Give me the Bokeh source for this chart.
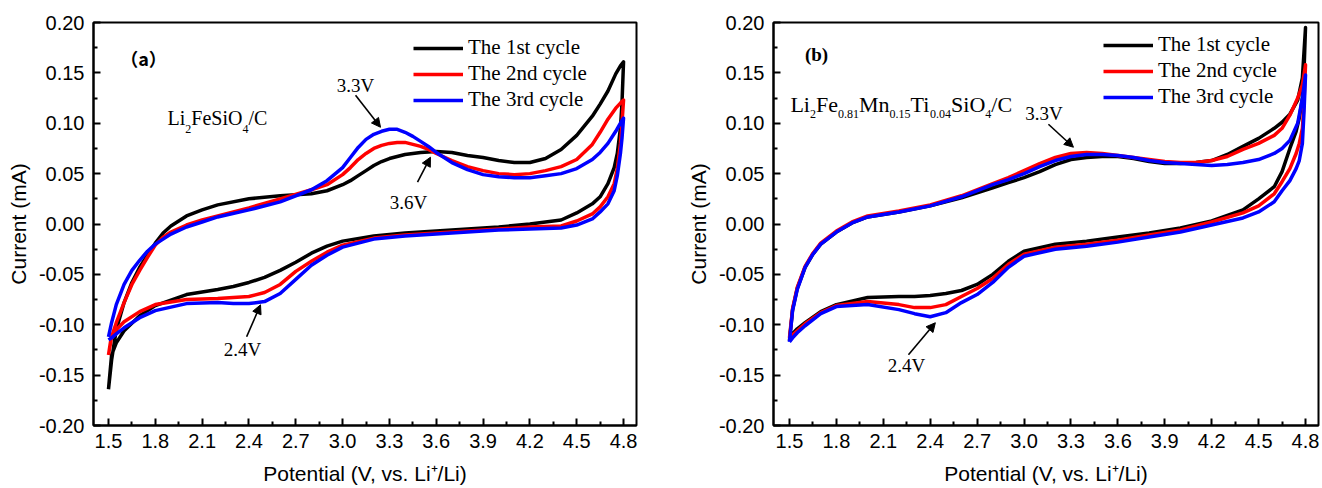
from bokeh.plotting import figure
from bokeh.layouts import row
from bokeh.models import (Range1d, FixedTicker, NumeralTickFormatter, Legend,
                          LegendItem, Label, Arrow, NormalHead)
from bokeh.embed import file_html
from bokeh.resources import INLINE

# ---------------- data ----------------
X_TICKS = [1.5, 1.8, 2.1, 2.4, 2.7, 3.0, 3.3, 3.6, 3.9, 4.2, 4.5, 4.8]
X_MINOR = [1.65, 1.95, 2.25, 2.55, 2.85, 3.15, 3.45, 3.75, 4.05, 4.35, 4.65]
Y_TICKS = [-0.20, -0.15, -0.10, -0.05, 0.00, 0.05, 0.10, 0.15, 0.20]
Y_MINOR = [-0.175, -0.125, -0.075, -0.025, 0.025, 0.075, 0.125, 0.175]
LEGEND_LABELS = ["The 1st cycle", "The 2nd cycle", "The 3rd cycle"]

# potential grids: anodic (forward) scan and cathodic (reverse) scan
A_V_ANODIC = [1.5, 1.52, 1.55, 1.6, 1.65, 1.7, 1.75, 1.8, 1.85, 1.9, 2.0, 2.1, 2.2, 2.4,
              2.6, 2.8, 2.9, 3.0, 3.05, 3.1, 3.15, 3.2, 3.25, 3.3, 3.35, 3.4, 3.45, 3.5,
              3.55, 3.6, 3.7, 3.8, 3.9, 4.0, 4.1, 4.2, 4.3, 4.4, 4.5, 4.6, 4.65, 4.7,
              4.75, 4.78, 4.8]
B_V_ANODIC = [1.5, 1.52, 1.55, 1.6, 1.65, 1.7, 1.8, 1.9, 2.0, 2.2, 2.4, 2.6, 2.8, 2.9,
              3.0, 3.1, 3.2, 3.3, 3.4, 3.5, 3.6, 3.7, 3.8, 3.9, 4.0, 4.1, 4.2, 4.3,
              4.4, 4.5, 4.6, 4.65, 4.7, 4.75, 4.78, 4.8]
V_CATHODIC = [4.8, 4.79, 4.78, 4.76, 4.74, 4.7, 4.65, 4.6, 4.5, 4.4, 4.2, 4.0, 3.8,
              3.6, 3.4, 3.2, 3.0, 2.9, 2.8, 2.7, 2.6, 2.5, 2.4, 2.3, 2.2, 2.0, 1.8,
              1.7, 1.6, 1.55, 1.52, 1.5]

# (a) Li2FeSiO4/C
A_ANODIC_1 = [-0.164, -0.135, -0.105, -0.078, -0.058, -0.043, -0.031, -0.019, -0.009, -0.002,
              0.008, 0.014, 0.019, 0.025, 0.028, 0.030, 0.033, 0.039, 0.043, 0.048, 0.053,
              0.058, 0.062, 0.065, 0.067, 0.069, 0.070, 0.071, 0.0715, 0.072, 0.071, 0.068,
              0.066, 0.063, 0.061, 0.061, 0.065, 0.074, 0.088, 0.107, 0.119, 0.132, 0.149,
              0.157, 0.161]
A_ANODIC_2 = [-0.130, -0.112, -0.098, -0.078, -0.060, -0.046, -0.033, -0.021, -0.013, -0.008,
              -0.001, 0.004, 0.008, 0.016, 0.025, 0.034, 0.039, 0.049, 0.056, 0.064, 0.070,
              0.075, 0.078, 0.080, 0.081, 0.081, 0.079, 0.077, 0.074, 0.070, 0.063, 0.057,
              0.053, 0.050, 0.049, 0.050, 0.053, 0.057, 0.064, 0.079, 0.091, 0.104, 0.115,
              0.120, 0.123]
A_ANODIC_3 = [-0.112, -0.098, -0.080, -0.060, -0.046, -0.036, -0.027, -0.020, -0.015, -0.010,
              -0.003, 0.002, 0.007, 0.014, 0.022, 0.034, 0.043, 0.056, 0.066, 0.076, 0.084,
              0.089, 0.092, 0.094, 0.094, 0.091, 0.087, 0.082, 0.077, 0.071, 0.061, 0.054,
              0.049, 0.047, 0.046, 0.046, 0.048, 0.050, 0.055, 0.064, 0.071, 0.080, 0.092,
              0.100, 0.105]
A_CATHODIC_1 = [0.161, 0.120, 0.095, 0.070, 0.056, 0.040, 0.027, 0.020, 0.011, 0.004, 0.000,
                -0.003, -0.005, -0.007, -0.009, -0.012, -0.017, -0.022, -0.029, -0.038, -0.046,
                -0.053, -0.058, -0.062, -0.065, -0.070, -0.081, -0.091, -0.106, -0.118, -0.130,
                -0.164]
A_CATHODIC_2 = [0.123, 0.100, 0.080, 0.055, 0.040, 0.027, 0.017, 0.010, 0.003, -0.002, -0.003,
                -0.005, -0.007, -0.009, -0.011, -0.014, -0.021, -0.028, -0.037, -0.047, -0.060,
                -0.068, -0.072, -0.073, -0.074, -0.075, -0.080, -0.087, -0.097, -0.105, -0.110,
                -0.130]
A_CATHODIC_3 = [0.105, 0.085, 0.070, 0.048, 0.033, 0.020, 0.012, 0.005, -0.001, -0.004, -0.005,
                -0.006, -0.008, -0.010, -0.012, -0.015, -0.023, -0.031, -0.041, -0.055, -0.069,
                -0.077, -0.079, -0.079, -0.078, -0.079, -0.086, -0.093, -0.103, -0.109, -0.113,
                -0.115]

# (b) Li2Fe0.81Mn0.15Ti0.04SiO4/C
B_ANODIC_1 = [-0.116, -0.085, -0.064, -0.043, -0.030, -0.020, -0.008, 0.001, 0.007, 0.012,
              0.018, 0.026, 0.036, 0.041, 0.046, 0.052, 0.059, 0.064, 0.066, 0.067, 0.067,
              0.065, 0.062, 0.060, 0.060, 0.061, 0.063, 0.069, 0.077, 0.085, 0.095, 0.101,
              0.109, 0.123, 0.145, 0.195]
B_ANODIC_2 = [-0.113, -0.084, -0.063, -0.042, -0.029, -0.019, -0.007, 0.002, 0.008, 0.013,
              0.019, 0.028, 0.040, 0.046, 0.053, 0.060, 0.066, 0.070, 0.071, 0.070, 0.068,
              0.066, 0.064, 0.062, 0.061, 0.061, 0.063, 0.067, 0.074, 0.080, 0.088, 0.095,
              0.108, 0.125, 0.138, 0.158]
B_ANODIC_3 = [-0.117, -0.086, -0.065, -0.043, -0.030, -0.020, -0.008, 0.001, 0.007, 0.012,
              0.018, 0.027, 0.039, 0.044, 0.050, 0.057, 0.063, 0.067, 0.069, 0.069, 0.068,
              0.066, 0.063, 0.061, 0.060, 0.059, 0.058, 0.059, 0.061, 0.064, 0.070, 0.075,
              0.083, 0.100, 0.125, 0.148]
B_CATHODIC_1 = [0.195, 0.150, 0.125, 0.105, 0.092, 0.075, 0.052, 0.037, 0.025, 0.014, 0.003,
                -0.004, -0.009, -0.013, -0.017, -0.020, -0.027, -0.037, -0.050, -0.060, -0.066,
                -0.069, -0.071, -0.072, -0.072, -0.073, -0.080, -0.087, -0.098, -0.104, -0.109,
                -0.116]
B_CATHODIC_2 = [0.158, 0.120, 0.095, 0.080, 0.070, 0.055, 0.042, 0.030, 0.018, 0.011, 0.002,
                -0.006, -0.011, -0.016, -0.020, -0.023, -0.030, -0.040, -0.054, -0.064, -0.072,
                -0.080, -0.083, -0.083, -0.080, -0.077, -0.081, -0.088, -0.099, -0.106, -0.110,
                -0.113]
B_CATHODIC_3 = [0.148, 0.110, 0.080, 0.063, 0.055, 0.043, 0.033, 0.022, 0.012, 0.006, -0.001,
                -0.008, -0.013, -0.018, -0.022, -0.025, -0.032, -0.043, -0.058, -0.070, -0.078,
                -0.088, -0.092, -0.089, -0.085, -0.080, -0.082, -0.089, -0.101, -0.108, -0.113,
                -0.117]

COLORS = ["#000000", "#ff0000", "#0000ff"]

# ---------------- layout constants ----------------
Y_START, Y_END = -0.20, 0.20
FIG_H = 487
BORDER_TOP, BORDER_BOTTOM = 22, 61
FRAME_H = FIG_H - BORDER_TOP - BORDER_BOTTOM
DY_PER_PX = (Y_END - Y_START) / FRAME_H

SANS = "Liberation Sans"
SERIF = "Liberation Serif"

SERIF_W = {'L': 611, 'i': 278, 'F': 556, 'e': 444, 'S': 556, 'O': 722, 'M': 889,
           'n': 500, 'T': 611, '/': 278, 'C': 667, '.': 250}


def text_w(s, size):
    return sum(SERIF_W.get(c, 500) for c in s) / 1000.0 * size


def add_formula(p, x, y, parts, size, sub_size, sub_drop):
    off = 0.0
    for txt, sub in parts:
        fs = sub_size if sub else size
        yy = y - sub_drop * DY_PER_PX if sub else y
        p.add_layout(Label(x=x, y=yy, x_offset=off, text=txt, text_font=SERIF,
                           text_font_size=f"{fs}px", text_baseline="alphabetic",
                           text_align="left", text_color="black"))
        off += text_w(txt, fs)


def add_text(p, x, y, txt, font=SERIF, size=19, style="normal"):
    p.add_layout(Label(x=x, y=y, text=txt, text_font=font, text_font_size=f"{size}px",
                       text_font_style=style, text_align="center", text_baseline="middle",
                       text_color="black"))


def add_arrow(p, x0, y0, x1, y1):
    p.add_layout(Arrow(end=NormalHead(size=9, fill_color="black", line_color="black",
                                      line_width=1),
                       x_start=x0, y_start=y0, x_end=x1, y_end=y1,
                       line_color="black", line_width=1.6))


def make_panel(width, b_left, b_right, x_range, v_anodic, anodic, cathodic, legend_xy):
    p = figure(width=width, height=FIG_H, output_backend="svg", toolbar_location=None,
               x_range=Range1d(*x_range), y_range=Range1d(Y_START, Y_END),
               min_border_left=b_left, min_border_right=b_right,
               min_border_top=BORDER_TOP, min_border_bottom=BORDER_BOTTOM,
               background_fill_color="white", border_fill_color="white")
    p.grid.visible = False
    p.outline_line_color = "black"
    p.outline_line_width = 2

    p.xaxis.ticker = FixedTicker(ticks=X_TICKS, minor_ticks=X_MINOR)
    p.yaxis.ticker = FixedTicker(ticks=Y_TICKS, minor_ticks=Y_MINOR)
    p.xaxis.formatter = NumeralTickFormatter(format="0.0")
    p.yaxis.formatter = NumeralTickFormatter(format="0.00")
    p.xaxis.axis_label = "Potential (V, vs. Li\u207a/Li)"
    p.yaxis.axis_label = "Current (mA)"
    for ax in (p.xaxis[0], p.yaxis[0]):
        ax.axis_line_width = 2
        ax.axis_line_color = "black"
        ax.major_tick_in = 7
        ax.major_tick_out = 0
        ax.minor_tick_in = 4
        ax.minor_tick_out = 0
        ax.major_tick_line_width = 2
        ax.minor_tick_line_width = 2
        ax.major_tick_line_color = "black"
        ax.minor_tick_line_color = "black"
        ax.major_label_text_font = SANS
        ax.major_label_text_font_size = "20px"
        ax.major_label_text_color = "black"
        ax.axis_label_text_font = SANS
        ax.axis_label_text_font_size = "21px"
        ax.axis_label_text_font_style = "normal"
        ax.axis_label_text_color = "black"
    p.xaxis.major_label_standoff = 8
    p.xaxis.axis_label_standoff = 11
    p.yaxis.major_label_standoff = 9
    p.yaxis.axis_label_standoff = 6

    items = []
    for k in range(3):
        r = p.line(v_anodic + V_CATHODIC, anodic[k] + cathodic[k],
                   line_color=COLORS[k], line_width=3.5, line_join="round")
        items.append(LegendItem(label=LEGEND_LABELS[k], renderers=[r]))
    legend = Legend(items=items, location=legend_xy, orientation="vertical",
                    glyph_width=50, glyph_height=20, label_height=20, label_standoff=5,
                    spacing=1, padding=0, margin=0, border_line_alpha=0,
                    background_fill_alpha=0, label_text_font=SERIF,
                    label_text_font_size="21px", label_text_color="black")
    p.add_layout(legend)
    return p


# ---------------- panel (a) ----------------
p1 = make_panel(680, 93, 44, (1.404, 4.883), A_V_ANODIC,
                [A_ANODIC_1, A_ANODIC_2, A_ANODIC_3],
                [A_CATHODIC_1, A_CATHODIC_2, A_CATHODIC_3], (320, 313))
add_text(p1, 1.724, 0.165, "\uff08a\uff09", font="Noto Sans CJK SC", size=18, style="bold")
add_formula(p1, 1.878, 0.105, [("Li", False), ("2", True), ("FeSiO", False), ("4", True),
                               ("/C", False)], 20, 12, 11)
add_text(p1, 3.083, 0.1376, "3.3V")
add_arrow(p1, 3.083, 0.1277, 3.243, 0.096)
add_text(p1, 3.422, 0.0218, "3.6V")
add_arrow(p1, 3.48, 0.0416, 3.563, 0.0663)
add_text(p1, 2.359, -0.1248, "2.4V")
add_arrow(p1, 2.385, -0.1119, 2.474, -0.0802)

# ---------------- panel (b) ----------------
p2 = make_panel(642, 93, 4, (1.398, 4.883), B_V_ANODIC,
                [B_ANODIC_1, B_ANODIC_2, B_ANODIC_3],
                [B_CATHODIC_1, B_CATHODIC_2, B_CATHODIC_3], (330, 316))
add_text(p2, 1.673, 0.168, "(b)", font=SERIF, size=19, style="bold")
add_formula(p2, 1.506, 0.119, [("Li", False), ("2", True), ("Fe", False), ("0.81", True),
                               ("Mn", False), ("0.15", True), ("Ti", False), ("0.04", True),
                               ("SiO", False), ("4", True), ("/C", False)], 22, 12, 10)
add_text(p2, 3.127, 0.110, "3.3V")
add_arrow(p2, 3.156, 0.099, 3.316, 0.0762)
add_text(p2, 2.248, -0.1406, "2.4V")
add_arrow(p2, 2.261, -0.1297, 2.433, -0.098)

layout = row(p1, p2)
open("out.html", "w").write(file_html(layout, INLINE, title="CV curves"))
